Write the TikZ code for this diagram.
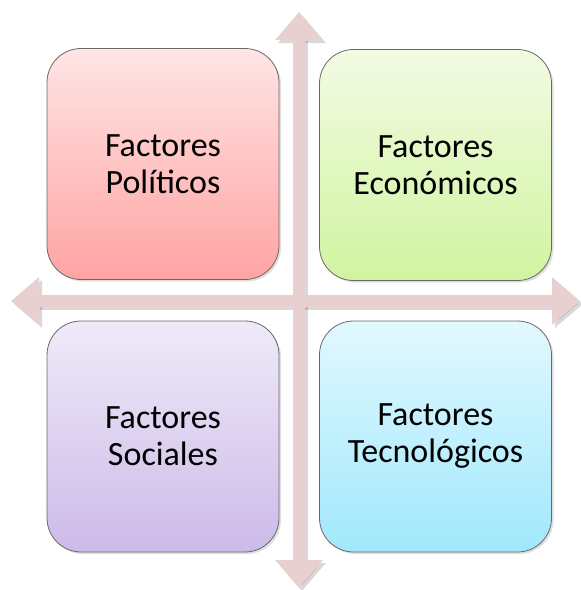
\documentclass[tikz,border=0pt]{standalone}
\usepackage{fontspec}
\setmainfont{Carlito}
\usepackage{tikz}
\usetikzlibrary{arrows.meta,shadows}
\definecolor{cfleche}{RGB}{232,208,208}
\definecolor{cbord}{RGB}{105,105,105}
\definecolor{crosahaut}{RGB}{255,229,229}
\definecolor{crosabas}{RGB}{255,163,163}
\definecolor{cverdehaut}{RGB}{243,251,227}
\definecolor{cverdebas}{RGB}{208,244,160}
\definecolor{clilahaut}{RGB}{239,234,248}
\definecolor{clilabas}{RGB}{204,186,232}
\definecolor{cazulhaut}{RGB}{226,248,255}
\definecolor{cazulbas}{RGB}{160,232,252}

\begin{document}
\begin{tikzpicture}[x=1pt, y=-1pt,
  caja/.style={draw=cbord, line width=0.8pt, rounded corners=34pt,
    minimum width=232pt, minimum height=231pt, align=center,
    font=\fontsize{34}{37}\selectfont,
    drop shadow={shadow xshift=2pt, shadow yshift=-2pt, opacity=0.25}},
  flecha/.style={cfleche, line width=12pt,
    {Triangle[length=28pt,width=46pt]}-{Triangle[length=28pt,width=46pt]}}]
\useasboundingbox (0,0) rectangle (581,590);
\coordinate (n) at (299,12); \coordinate (s) at (299,588);
\coordinate (o) at (11,301); \coordinate (e) at (580,301);
\draw[flecha, black, opacity=0.15] ([shift={(3,3)}]n) -- ([shift={(3,3)}]s);
\draw[flecha, black, opacity=0.15] ([shift={(3,3)}]o) -- ([shift={(3,3)}]e);
\draw[flecha] (n) -- (s);
\draw[flecha] (o) -- (e);
\node[caja, top color=crosahaut, bottom color=crosabas] (pol) at (163,164)
  {Factores\\Políticos};
\node[caja, top color=cverdehaut, bottom color=cverdebas] (eco) at (435.5,165)
  {Factores\\Económicos};
\node[caja, top color=clilahaut, bottom color=clilabas] (soc) at (163,436.5)
  {Factores\\Sociales};
\node[caja, top color=cazulhaut, bottom color=cazulbas] (tec) at (435.5,436.5)
  {Factores\\Tecnológicos};
\end{tikzpicture}
\end{document}
